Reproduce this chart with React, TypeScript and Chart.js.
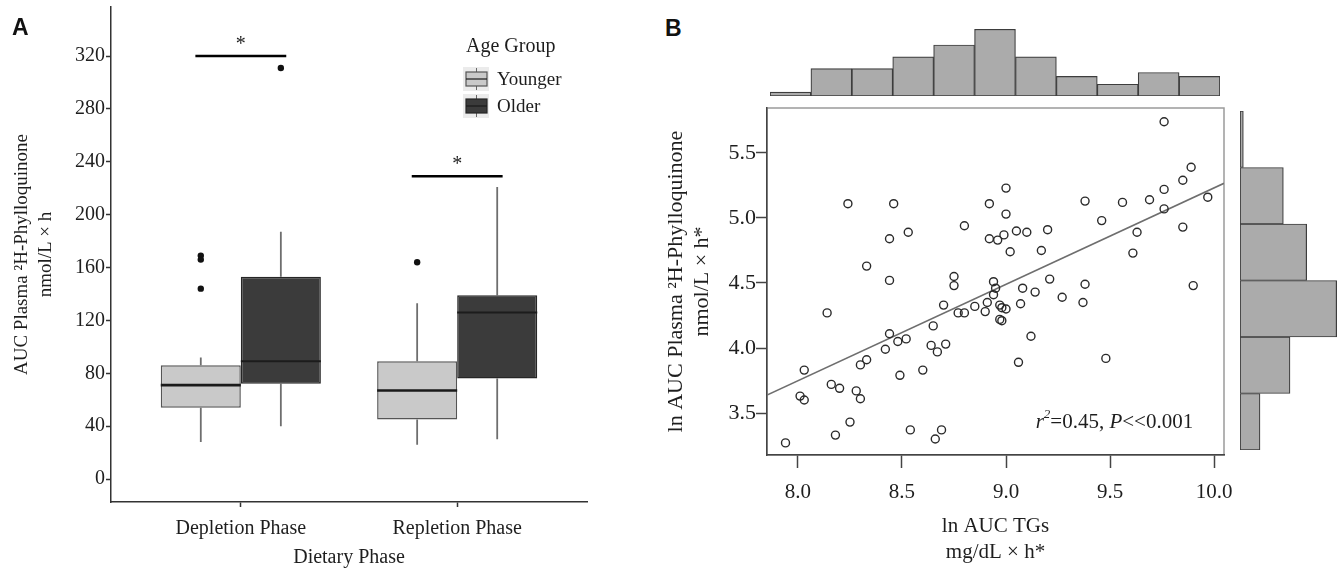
import React, { useEffect, useRef } from 'react';
import { Chart, registerables } from 'chart.js';

Chart.register(...registerables);

const SERIF = '"Liberation Serif", "Times New Roman", Times, serif';
const SANS = '"Liberation Sans", Arial, Helvetica, sans-serif';
const INK = '#1e1e1e';

// ---------------- Panel A data ----------------
const PHASES = ['Depletion Phase', 'Repletion Phase'];
const GROUPS = ['Younger', 'Older'];
const YOUNGER_LOW = [28, 26];
const YOUNGER_Q1 = [54, 45];
const YOUNGER_MEDIAN = [71, 67];
const YOUNGER_Q3 = [86, 89];
const YOUNGER_HIGH = [92, 133];
const YOUNGER_OUTLIERS = [[169, 166, 144], [164]];
const OLDER_LOW = [40, 30];
const OLDER_Q1 = [72, 76];
const OLDER_MEDIAN = [89, 126];
const OLDER_Q3 = [153, 139];
const OLDER_HIGH = [187, 221];
const OLDER_OUTLIERS = [[311], []];
const SIGNIFICANCE_Y = [320, 229];
const SIGNIFICANCE_LABEL = ['*', '*'];
const A_Y_TICKS = [0, 40, 80, 120, 160, 200, 240, 280, 320];

// ---------------- Panel B data ----------------
const LN_AUC_TG = [
  7.94, 8.03, 8.01, 8.03, 8.14, 8.16, 8.20, 8.18, 8.25, 8.28, 8.30, 8.30, 8.33, 8.42, 8.44, 8.48, 8.52,
  8.49, 8.54, 8.60, 8.65, 8.64, 8.67, 8.71, 8.70, 8.69, 8.66, 8.75, 8.75, 8.77, 8.80, 8.85, 8.44, 8.33,
  8.90, 8.91, 8.94, 8.94, 8.95, 8.24, 8.46, 8.53, 8.44, 8.80, 8.92, 9.00, 9.00, 8.92, 8.96, 8.99, 9.05,
  9.10, 9.02, 9.08, 8.97, 8.98, 9.00, 8.97, 8.98, 9.07, 9.12, 9.06, 9.76, 9.89, 9.85, 9.76, 9.69, 9.56,
  9.38, 9.76, 9.97, 9.46, 9.85, 9.63, 9.61, 9.20, 9.17, 9.21, 9.14, 9.27, 9.38, 9.37, 9.90, 9.48,
];
const LN_AUC_PK = [
  3.27, 3.83, 3.63, 3.60, 4.27, 3.72, 3.69, 3.33, 3.43, 3.67, 3.61, 3.87, 3.91, 3.99, 4.11, 4.05, 4.07,
  3.79, 3.37, 3.83, 4.17, 4.02, 3.97, 4.03, 4.33, 3.37, 3.30, 4.55, 4.48, 4.27, 4.27, 4.32, 4.52, 4.63,
  4.28, 4.35, 4.51, 4.41, 4.46, 5.11, 5.11, 4.89, 4.84, 4.94, 5.11, 5.23, 5.03, 4.84, 4.83, 4.87, 4.90,
  4.89, 4.74, 4.46, 4.33, 4.31, 4.30, 4.22, 4.21, 4.34, 4.09, 3.89, 5.74, 5.39, 5.29, 5.22, 5.14, 5.12,
  5.13, 5.07, 5.16, 4.98, 4.93, 4.89, 4.73, 4.91, 4.75, 4.53, 4.43, 4.39, 4.49, 4.35, 4.48, 3.92,
];
const REGRESSION_X = [7.851, 10.048];
const REGRESSION_Y = [3.638, 5.267];
const B_X_TICKS = [8.0, 8.5, 9.0, 9.5, 10.0];
const B_Y_TICKS = [3.5, 4.0, 4.5, 5.0, 5.5];
const TOP_HIST_BINS = [
  '7.87–8.06', '8.06–8.26', '8.26–8.46', '8.46–8.65', '8.65–8.85', '8.85–9.05',
  '9.05–9.24', '9.24–9.44', '9.44–9.64', '9.64–9.84', '9.84–10.03',
];
const TOP_HIST_COUNTS = [1, 7, 7, 10, 13, 17, 10, 5, 3, 6, 5];
const RIGHT_HIST_BINS = ['3.22–3.66', '3.66–4.09', '4.09–4.52', '4.52–4.95', '4.95–5.38', '5.38–5.82'];
const RIGHT_HIST_COUNTS = [6, 15, 29, 20, 13, 1];
const STAT_ANCHOR = { x: 9.9, y: 3.43 };

// ---------------- layout / style constants ----------------
const BOX_SPAN = 0.74; // share of phase spacing used by the pair of boxes
const HALF_BOX = BOX_SPAN / 4; // offset of a box centre from its phase centre
const SIG_HALF = 0.21;
const GROUP_FILL = ['#c9c9c9', '#3b3b3b'];
const GROUP_BORDER = ['#555555', '#262626'];
const LEGEND_LEFT = 466;
const LEGEND_TITLE_Y = 47;
const LEGEND_ITEM_Y = [79, 106];

type P = { x: number; y: number | null };

function whiskers(low: number[], q1: number[], q3: number[], high: number[], side: number): P[] {
  const pts: P[] = [];
  PHASES.forEach((_, i) => {
    const x = i + side * HALF_BOX;
    pts.push({ x, y: low[i] }, { x, y: q1[i] }, { x, y: null }, { x, y: q3[i] }, { x, y: high[i] }, { x, y: null });
  });
  return pts;
}

function medians(med: number[], side: number): P[] {
  const pts: P[] = [];
  PHASES.forEach((_, i) => {
    const a = side < 0 ? i - 2 * HALF_BOX : i;
    const b = side < 0 ? i : i + 2 * HALF_BOX;
    pts.push({ x: a, y: med[i] }, { x: b, y: med[i] }, { x: b, y: null });
  });
  return pts;
}

function outliers(list: number[][], side: number): P[] {
  const pts: P[] = [];
  list.forEach((vals, i) => vals.forEach((v) => pts.push({ x: i + side * HALF_BOX, y: v })));
  return pts;
}

function sigBars(): P[] {
  const pts: P[] = [];
  SIGNIFICANCE_Y.forEach((v, i) => {
    pts.push({ x: i - SIG_HALF, y: v }, { x: i + SIG_HALF, y: v }, { x: i + SIG_HALF, y: null });
  });
  return pts;
}

const panelAAnnotations = {
  id: 'panelAAnnotations',
  afterDatasetsDraw(chart: any) {
    const { ctx } = chart;
    const xs = chart.scales.x;
    const ys = chart.scales.y;
    ctx.save();
    ctx.font = `20px ${SERIF}`;
    ctx.fillStyle = INK;
    ctx.textAlign = 'center';
    ctx.textBaseline = 'alphabetic';
    SIGNIFICANCE_Y.forEach((v, i) => {
      ctx.fillText(SIGNIFICANCE_LABEL[i], xs.getPixelForValue(i), ys.getPixelForValue(v) - 6);
    });
    // legend
    ctx.textAlign = 'left';
    ctx.textBaseline = 'middle';
    ctx.font = `20px ${SERIF}`;
    ctx.fillText('Age Group', LEGEND_LEFT, LEGEND_TITLE_Y);
    GROUPS.forEach((g, i) => {
      const cy = LEGEND_ITEM_Y[i];
      ctx.fillStyle = '#ebebeb';
      ctx.fillRect(LEGEND_LEFT - 3, cy - 12, 26, 24);
      ctx.strokeStyle = '#666';
      ctx.lineWidth = 1;
      ctx.beginPath();
      ctx.moveTo(LEGEND_LEFT + 10.5, cy - 11);
      ctx.lineTo(LEGEND_LEFT + 10.5, cy + 11);
      ctx.stroke();
      ctx.fillStyle = GROUP_FILL[i];
      ctx.fillRect(LEGEND_LEFT, cy - 7, 21, 14);
      ctx.strokeStyle = GROUP_BORDER[i];
      ctx.lineWidth = 1.2;
      ctx.strokeRect(LEGEND_LEFT, cy - 7, 21, 14);
      ctx.strokeStyle = '#1a1a1a';
      ctx.beginPath();
      ctx.moveTo(LEGEND_LEFT, cy);
      ctx.lineTo(LEGEND_LEFT + 21, cy);
      ctx.stroke();
      ctx.fillStyle = INK;
      ctx.font = `19px ${SERIF}`;
      ctx.fillText(g, LEGEND_LEFT + 31, cy + 1);
    });
    ctx.restore();
  },
};

const panelBFrame = {
  id: 'panelBFrame',
  beforeDraw(chart: any) {
    const { ctx, chartArea: a } = chart;
    ctx.save();
    ctx.strokeStyle = '#9a9a9a';
    ctx.lineWidth = 1.5;
    ctx.strokeRect(a.left, a.top, a.right - a.left, a.bottom - a.top);
    ctx.restore();
  },
  afterDatasetsDraw(chart: any) {
    const { ctx } = chart;
    const xs = chart.scales.x;
    const ys = chart.scales.y;
    const parts = [
      { t: 'r', f: `italic 21px ${SERIF}`, dy: 0 },
      { t: '2', f: `italic 13px ${SERIF}`, dy: -8 },
      { t: '=0.45, ', f: `21px ${SERIF}`, dy: 0 },
      { t: 'P', f: `italic 21px ${SERIF}`, dy: 0 },
      { t: '<<0.001', f: `21px ${SERIF}`, dy: 0 },
    ];
    ctx.save();
    ctx.fillStyle = INK;
    ctx.textAlign = 'left';
    ctx.textBaseline = 'middle';
    let total = 0;
    const widths = parts.map((p) => {
      ctx.font = p.f;
      const w = ctx.measureText(p.t).width;
      total += w;
      return w;
    });
    let cx = xs.getPixelForValue(STAT_ANCHOR.x) - total;
    const cy = ys.getPixelForValue(STAT_ANCHOR.y);
    parts.forEach((p, i) => {
      ctx.font = p.f;
      ctx.fillText(p.t, cx, cy + p.dy);
      cx += widths[i];
    });
    ctx.restore();
  },
};

const lineSet = (label: string, data: P[], color: string, width: number, order: number) => ({
  type: 'scatter' as const,
  label,
  data,
  showLine: true,
  spanGaps: false,
  borderColor: color,
  backgroundColor: color,
  borderWidth: width,
  pointRadius: 0,
  pointHoverRadius: 0,
  fill: false,
  order,
});

function configA(): any {
  return {
    type: 'bar',
    data: {
      datasets: [
        {
          type: 'bar',
          label: GROUPS[0],
          data: PHASES.map((_, i) => ({ x: i, y: [YOUNGER_Q1[i], YOUNGER_Q3[i]] })),
          backgroundColor: GROUP_FILL[0],
          borderColor: GROUP_BORDER[0],
          borderWidth: 1.5,
          borderSkipped: false,
          categoryPercentage: BOX_SPAN,
          barPercentage: 1,
          order: 2,
        },
        {
          type: 'bar',
          label: GROUPS[1],
          data: PHASES.map((_, i) => ({ x: i, y: [OLDER_Q1[i], OLDER_Q3[i]] })),
          backgroundColor: GROUP_FILL[1],
          borderColor: GROUP_BORDER[1],
          borderWidth: 1.5,
          borderSkipped: false,
          categoryPercentage: BOX_SPAN,
          barPercentage: 1,
          order: 2,
        },
        lineSet('Younger whiskers', whiskers(YOUNGER_LOW, YOUNGER_Q1, YOUNGER_Q3, YOUNGER_HIGH, -1), '#6e6e6e', 1.8, 3),
        lineSet('Older whiskers', whiskers(OLDER_LOW, OLDER_Q1, OLDER_Q3, OLDER_HIGH, 1), '#6e6e6e', 1.8, 3),
        lineSet('Younger median', medians(YOUNGER_MEDIAN, -1), '#1a1a1a', 2.6, 0),
        lineSet('Older median', medians(OLDER_MEDIAN, 1), '#1c1c1c', 2, 0),
        {
          type: 'scatter',
          label: 'Outliers',
          data: [...outliers(YOUNGER_OUTLIERS, -1), ...outliers(OLDER_OUTLIERS, 1)],
          pointRadius: 3.2,
          pointBackgroundColor: '#111',
          pointBorderWidth: 0,
          showLine: false,
          order: 1,
        },
        lineSet('Significance', sigBars(), '#000000', 2.6, 1),
      ],
    },
    options: {
      responsive: false,
      animation: false,
      layout: { padding: { left: 0, top: 7, right: 73, bottom: 0 } },
      plugins: { legend: { display: false }, tooltip: { enabled: false } },
      scales: {
        x: {
          type: 'linear',
          min: -0.6,
          max: 1.6,
          offset: false,
          grid: { display: true, drawOnChartArea: false, drawTicks: true, tickLength: 5, tickColor: '#333', tickWidth: 1.5, offset: false },
          border: { display: true, color: '#333', width: 1.5 },
          afterBuildTicks: (s: any) => {
            s.ticks = PHASES.map((_, i) => ({ value: i }));
          },
          ticks: {
            callback: (v: any) => PHASES[Math.round(Number(v))] ?? '',
            font: { family: SERIF, size: 20 },
            color: INK,
            padding: 10,
            autoSkip: false,
            maxRotation: 0,
          },
          title: { display: true, text: 'Dietary Phase', font: { family: SERIF, size: 20, lineHeight: 1.2 }, color: INK, padding: { top: 0, bottom: 1 } },
          afterFit: (s: any) => {
            s.height = 69;
            s.paddingLeft = 0;
            s.paddingRight = 0;
          },
        },
        y: {
          type: 'linear',
          min: -17.4,
          max: 357.1,
          grid: { display: true, drawOnChartArea: false, drawTicks: true, tickLength: 5, tickColor: '#333', tickWidth: 1.5 },
          border: { display: true, color: '#333', width: 1.5 },
          afterBuildTicks: (s: any) => {
            s.ticks = A_Y_TICKS.map((v) => ({ value: v }));
          },
          ticks: { font: { family: SERIF, size: 20 }, color: INK, padding: 1 },
          title: {
            display: true,
            text: ['AUC Plasma ²H-Phylloquinone', 'nmol/L × h'],
            font: { family: SERIF, size: 19, lineHeight: 1.25 },
            color: INK,
            padding: { top: 10, bottom: 0 },
          },
          afterFit: (s: any) => {
            s.width = 111;
            s.paddingTop = 0;
            s.paddingBottom = 0;
          },
        },
      },
    },
    plugins: [panelAAnnotations],
  };
}

function configB(): any {
  return {
    type: 'scatter',
    data: {
      datasets: [
        {
          label: 'Participants',
          data: LN_AUC_TG.map((x, i) => ({ x, y: LN_AUC_PK[i] })),
          pointRadius: 4,
          pointBorderWidth: 1.4,
          pointBorderColor: '#2a2a2a',
          pointBackgroundColor: 'rgba(0,0,0,0)',
          order: 0,
        },
        lineSet('Regression', REGRESSION_X.map((x, i) => ({ x, y: REGRESSION_Y[i] })), '#6e6e6e', 1.6, 1),
      ],
    },
    options: {
      responsive: false,
      animation: false,
      layout: { padding: { left: 0, top: 8, right: 11, bottom: 0 } },
      plugins: { legend: { display: false }, tooltip: { enabled: false } },
      scales: {
        x: {
          type: 'linear',
          min: 7.851,
          max: 10.048,
          grid: { display: true, drawOnChartArea: false, drawTicks: true, tickLength: 13, tickColor: '#444', tickWidth: 1.5 },
          border: { display: true, color: '#444', width: 1.5 },
          afterBuildTicks: (s: any) => {
            s.ticks = B_X_TICKS.map((v) => ({ value: v }));
          },
          ticks: {
            callback: (v: any) => Number(v).toFixed(1),
            font: { family: SERIF, size: 21 },
            color: INK,
            padding: 12,
            autoSkip: false,
            maxRotation: 0,
          },
          title: {
            display: true,
            text: ['ln AUC TGs', 'mg/dL × h*'],
            font: { family: SERIF, size: 21, lineHeight: 1.25 },
            color: INK,
            padding: { top: 0, bottom: 5 },
          },
          afterFit: (s: any) => {
            s.height = 116;
            s.paddingLeft = 0;
            s.paddingRight = 0;
          },
        },
        y: {
          type: 'linear',
          min: 3.177,
          max: 5.846,
          grid: { display: true, drawOnChartArea: false, drawTicks: true, tickLength: 11, tickColor: '#444', tickWidth: 1.5 },
          border: { display: true, color: '#444', width: 1.5 },
          afterBuildTicks: (s: any) => {
            s.ticks = B_Y_TICKS.map((v) => ({ value: v }));
          },
          ticks: { callback: (v: any) => Number(v).toFixed(1), font: { family: SERIF, size: 22 }, color: INK, padding: 0 },
          title: {
            display: true,
            text: ['ln AUC Plasma ²H-Phylloquinone', 'nmol/L × h*'],
            font: { family: SERIF, size: 22, lineHeight: 1.15 },
            color: INK,
            padding: { top: 4, bottom: 0 },
          },
          afterFit: (s: any) => {
            s.width = 107;
            s.paddingTop = 0;
            s.paddingBottom = 0;
          },
        },
      },
    },
    plugins: [panelBFrame],
  };
}

const histStyle = {
  backgroundColor: '#ababab',
  borderColor: '#3d3d3d',
  borderWidth: 1.2,
  borderSkipped: false,
  categoryPercentage: 1,
  barPercentage: 1,
};

function configTop(): any {
  return {
    type: 'bar',
    data: { labels: TOP_HIST_BINS, datasets: [{ label: 'ln AUC TGs count', data: TOP_HIST_COUNTS, ...histStyle }] },
    options: {
      responsive: false,
      animation: false,
      layout: { padding: { left: 5, right: 5, top: 0, bottom: 4 } },
      plugins: { legend: { display: false }, tooltip: { enabled: false } },
      scales: { x: { display: false }, y: { display: false, min: 0, max: 19.37 } },
    },
  };
}

function configRight(): any {
  return {
    type: 'bar',
    data: { labels: RIGHT_HIST_BINS, datasets: [{ label: 'ln AUC phylloquinone count', data: RIGHT_HIST_COUNTS, ...histStyle }] },
    options: {
      indexAxis: 'y',
      responsive: false,
      animation: false,
      layout: { padding: { left: 2, right: 0, top: 0, bottom: 0 } },
      plugins: { legend: { display: false }, tooltip: { enabled: false } },
      scales: { y: { display: false, reverse: true }, x: { display: false, min: 0, max: 30.9 } },
    },
  };
}

export default function App() {
  const aRef = useRef<HTMLCanvasElement>(null);
  const bRef = useRef<HTMLCanvasElement>(null);
  const topRef = useRef<HTMLCanvasElement>(null);
  const rightRef = useRef<HTMLCanvasElement>(null);

  useEffect(() => {
    const charts: Chart[] = [];
    if (aRef.current) charts.push(new Chart(aRef.current, configA()));
    if (bRef.current) charts.push(new Chart(bRef.current, configB()));
    if (topRef.current) charts.push(new Chart(topRef.current, configTop()));
    if (rightRef.current) charts.push(new Chart(rightRef.current, configRight()));
    return () => charts.forEach((c) => c.destroy());
  }, []);

  const abs = (left: number, top: number, width: number, height: number): React.CSSProperties => ({
    position: 'absolute',
    left,
    top,
    width,
    height,
  });

  return (
    <div style={{ position: 'absolute', left: 0, top: 0, width: 1343, height: 571, background: '#fff', overflow: 'hidden' }}>
      <canvas ref={aRef} width={660} height={571} style={abs(0, 0, 660, 571)} />
      <canvas ref={bRef} width={575} height={471} style={abs(660, 100, 575, 471)} />
      <canvas ref={topRef} width={460} height={80} style={abs(765, 20, 460, 80)} />
      <canvas ref={rightRef} width={105} height={339} style={abs(1238, 111, 105, 339)} />
      <div style={{ position: 'absolute', left: 12, top: 16, font: `bold 23px ${SANS}`, lineHeight: 1, color: '#111' }}>A</div>
      <div style={{ position: 'absolute', left: 665, top: 17, font: `bold 23px ${SANS}`, lineHeight: 1, color: '#111' }}>B</div>
    </div>
  );
}
